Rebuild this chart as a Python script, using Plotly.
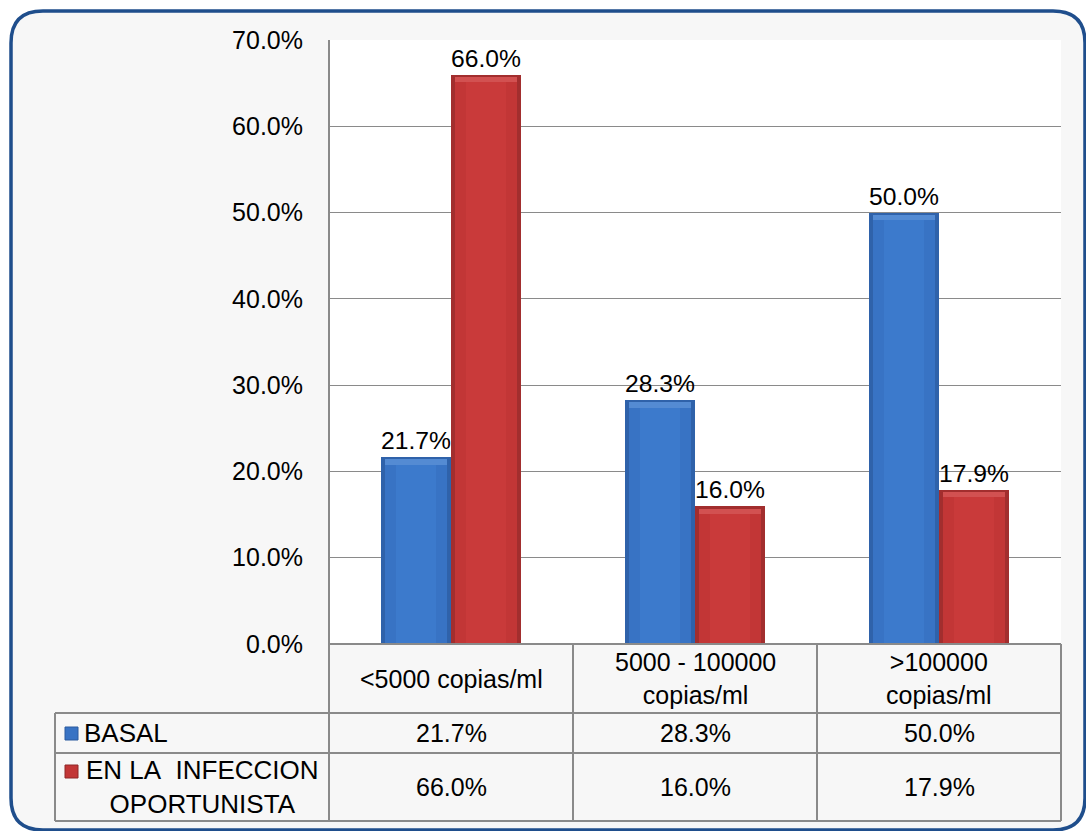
import plotly.graph_objects as go

# ---- data -------------------------------------------------------------
categories = ["<5000 copias/ml", "5000 - 100000<br>copias/ml", ">100000<br>copias/ml"]
series_names = ["BASAL", "EN LA\u00a0 INFECCION<br>OPORTUNISTA"]
basal = [21.7, 28.3, 50.0]
infeccion = [66.0, 16.0, 17.9]
y_ticks = [0, 10, 20, 30, 40, 50, 60, 70]

# ---- geometry (pixels) -------------------------------------------------
W, H = 1086, 831
L, R, T, B = 329, 25, 40, 187
PW, PH = W - L - R, H - T - B
FONT = "Liberation Sans, Arial, sans-serif"
FS = 25
GRID = "#8A8A8A"


def xp(px):
    return (px - L) / PW


def yp(py):
    return (H - B - py) / PH


ncat = len(categories)
bar_w = 70 / (PW / ncat)  # bar width in category units

fig = go.Figure()

styles = [
    dict(vals=basal, off=-bar_w, edge="#2F62AA", main="#3873C4", hi="#3C7ACC", bevel="#6FA3E2"),
    dict(vals=infeccion, off=0.0, edge="#A22E2E", main="#C23636", hi="#C93A3A", bevel="#E26C6C"),
]

for s, name in zip(styles, series_names):
    # outer body with data label
    fig.add_trace(go.Bar(
        x=categories, y=s["vals"], name=name, width=bar_w, offset=s["off"],
        marker=dict(color=s["edge"], line=dict(width=0)),
        text=[f"{v:.1f}%" for v in s["vals"]], textposition="outside",
        textfont=dict(family=FONT, size=FS, color="#000000"),
        cliponaxis=False, showlegend=False,
    ))
    # inner shading
    fig.add_trace(go.Bar(
        x=categories, y=[v - 0.3 for v in s["vals"]], width=bar_w * 0.88,
        offset=s["off"] + bar_w * 0.06,
        marker=dict(color=s["main"], line=dict(width=0)), showlegend=False, hoverinfo="skip",
    ))
    fig.add_trace(go.Bar(
        x=categories, y=[v - 0.9 for v in s["vals"]], width=bar_w * 0.56,
        offset=s["off"] + bar_w * 0.22,
        marker=dict(color=s["hi"], line=dict(width=0)), showlegend=False, hoverinfo="skip",
    ))
    # top bevel
    fig.add_trace(go.Bar(
        x=categories, y=[0.6] * ncat, base=[v - 0.9 for v in s["vals"]],
        width=bar_w * 0.88, offset=s["off"] + bar_w * 0.06,
        marker=dict(color=s["bevel"], opacity=0.5, line=dict(width=0)),
        showlegend=False, hoverinfo="skip",
    ))

shapes = []

# rounded frame around the whole chart
fx0, fy0, fx1, fy1, rad = 11, 11, 1085, 830, 32
rx, ry = rad / PW, rad / PH
X0, X1, Y0, Y1 = xp(fx0), xp(fx1), yp(fy0), yp(fy1)
frame = (f"M {X0 + rx} {Y0} L {X1 - rx} {Y0} Q {X1} {Y0} {X1} {Y0 - ry} "
         f"L {X1} {Y1 + ry} Q {X1} {Y1} {X1 - rx} {Y1} "
         f"L {X0 + rx} {Y1} Q {X0} {Y1} {X0} {Y1 + ry} "
         f"L {X0} {Y0 - ry} Q {X0} {Y0} {X0 + rx} {Y0} Z")
shapes.append(dict(type="path", path=frame, xref="paper", yref="paper", layer="below",
                   fillcolor="#F7F7F7", line=dict(color="#1F4E8C", width=3.5)))
# white plot area
shapes.append(dict(type="rect", xref="paper", yref="paper", x0=0, x1=1, y0=0, y1=1,
                   layer="below", fillcolor="#FFFFFF", line=dict(width=0)))

# data table grid
col_edges = [329, 573, 817, 1061]
row_edges = [644, 713, 753, 821]
tbl_left = 55


def hline(py, x_from, x_to):
    shapes.append(dict(type="line", xref="paper", yref="paper", x0=xp(x_from), x1=xp(x_to),
                       y0=yp(py), y1=yp(py), line=dict(color=GRID, width=2)))


def vline(px, y_from, y_to):
    shapes.append(dict(type="line", xref="paper", yref="paper", x0=xp(px), x1=xp(px),
                       y0=yp(y_from), y1=yp(y_to), line=dict(color=GRID, width=2)))


hline(row_edges[0], col_edges[0], col_edges[-1])
for py in row_edges[1:]:
    hline(py, tbl_left, col_edges[-1])
vline(tbl_left, row_edges[1], row_edges[-1])
vline(col_edges[0], T, row_edges[-1])
for px in col_edges[1:]:
    vline(px, row_edges[0], row_edges[-1])

# legend keys in the table
key_colors = [("#3873C4", "#2A5A9E"), ("#C23636", "#8E2626")]
key_tops = [727, 765]
for (fc, lc), top in zip(key_colors, key_tops):
    shapes.append(dict(type="rect", xref="paper", yref="paper",
                       x0=xp(65), x1=xp(78), y0=yp(top + 13), y1=yp(top),
                       fillcolor=fc, line=dict(color=lc, width=1)))

annotations = []


def cell(text, cx, cy, size=FS):
    annotations.append(dict(text=text, x=xp(cx), y=yp(cy), xref="paper", yref="paper",
                            showarrow=False, align="center", xanchor="center", yanchor="middle",
                            font=dict(family=FONT, size=size, color="#000000")))


centers = [(a + b) / 2 for a, b in zip(col_edges[:-1], col_edges[1:])]
for cx, cat in zip(centers, categories):
    cell(cat, cx, (row_edges[0] + row_edges[1]) / 2)
for cx, v in zip(centers, basal):
    cell(f"{v:.1f}%", cx, (row_edges[1] + row_edges[2]) / 2)
for cx, v in zip(centers, infeccion):
    cell(f"{v:.1f}%", cx, (row_edges[2] + row_edges[3]) / 2)

annotations.append(dict(text=series_names[0], x=xp(82), y=yp(733), xref="paper", yref="paper",
                        showarrow=False, xanchor="left", yanchor="middle",
                        font=dict(family=FONT, size=26, color="#000000")))
cell(series_names[1], 202, 787, size=26)

fig.update_layout(
    width=W, height=H,
    margin=dict(l=L, r=R, t=T, b=B, pad=0),
    paper_bgcolor="#FFFFFF", plot_bgcolor="rgba(0,0,0,0)",
    barmode="overlay", bargap=0, showlegend=False,
    font=dict(family=FONT, size=FS, color="#000000"),
    shapes=shapes, annotations=annotations,
    xaxis=dict(range=[-0.5, ncat - 0.5], showticklabels=False, showgrid=False,
               zeroline=False, showline=False, ticks=""),
    yaxis=dict(range=[0, 70], tickvals=y_ticks, ticktext=[f"{v:.1f}%" for v in y_ticks],
               showgrid=True, gridcolor=GRID, gridwidth=1, zeroline=False,
               showline=False, ticks="outside", ticklen=20, tickcolor="rgba(0,0,0,0)",
               tickfont=dict(family=FONT, size=FS, color="#000000")),
)

fig.write_html("out.html")
